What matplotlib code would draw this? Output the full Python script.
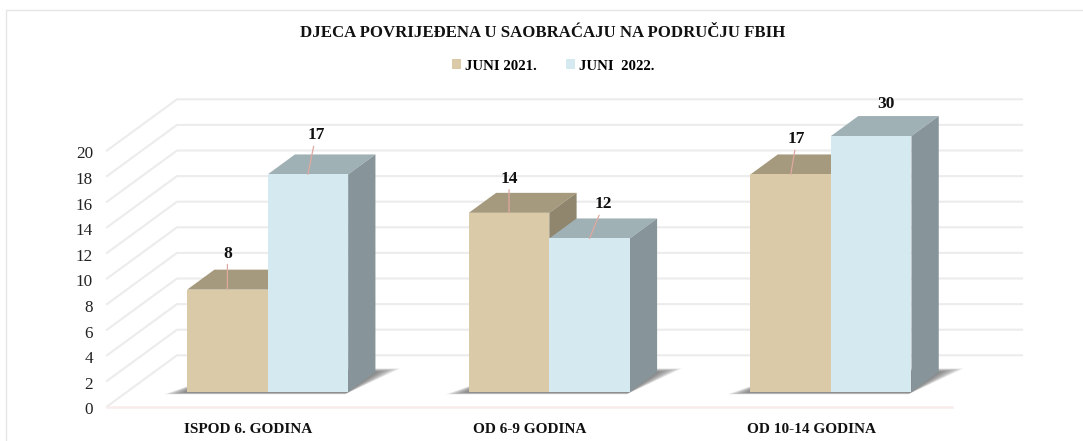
#!/usr/bin/env python3
import matplotlib
matplotlib.use("Agg")
import matplotlib.pyplot as plt
from matplotlib.patches import Polygon, Patch
from matplotlib.lines import Line2D
from matplotlib.transforms import ScaledTranslation

categories = ["ISPOD 6. GODINA", "OD 6-9 GODINA", "OD 10-14 GODINA"]
juni_2021 = [8, 14, 17]
juni_2022 = [17, 12, 30]
y_ticks = [0, 2, 4, 6, 8, 10, 12, 14, 16, 18, 20]
series_names = ["JUNI 2021.", "JUNI  2022."]

W, H = 1083, 441
FONT = "Liberation Serif"
YMAX = 20

# fake 3d: how far the back wall sits from the front plane, in data units
WALL_DX = 70 / 281.7
WALL_DY = 4.0
BAR_Z = 0.283    # front face of the bars (0 front, 1 wall)
BAR_DEPTH = 0.39
BAR_W = 80.5 / 281.7

TAN = ("#dacaa8", "#a59a7d", "#8f866d")
BLUE = ("#d5e9f0", "#a0b1b5", "#87959b")
GRID = "#ececec"


def project(x, y, z):
    return x + z * WALL_DX, y + z * WALL_DY


def poly(ax, pts, **kw):
    ax.add_patch(Polygon([project(*p) for p in pts], closed=True, clip_on=False, **kw))


def draw_bar(ax, left, val, cols, zo):
    top = min(val, YMAX)  # axis stops at 20, the 30 bar gets cut off
    right = left + BAR_W
    z0, z1 = BAR_Z, BAR_Z + BAR_DEPTH
    poly(ax, [(left, top, z0), (right, top, z0), (right, top, z1), (left, top, z1)],
         fc=cols[1], ec="none", zorder=zo)
    poly(ax, [(right, 0, z0), (right, top, z0), (right, top, z1), (right, 0, z1)],
         fc=cols[2], ec="none", zorder=zo)
    poly(ax, [(left, 0, z0), (right, 0, z0), (right, top, z0), (left, top, z0)],
         fc=cols[0], ec="none", zorder=zo + 0.1)


def draw_shadow(ax, left, right):
    # stacked see-through layers, the reference shadow is soft
    for k in range(8):
        grow = 0.07 - k * 0.009
        z0 = BAR_Z - 0.01 - grow * 0.5
        z1 = BAR_Z + BAR_DEPTH + grow
        poly(ax, [(left - grow, 0, z0), (right, 0, z0),
                  (right + grow, 0, z1), (left + grow, 0, z1)],
             fc="#555555", ec="none", alpha=0.13, zorder=2)


fig = plt.figure(figsize=(W / 100, H / 100), dpi=100)
ax = fig.add_axes([107 / W, 1 - 406.5 / H, 845 / W, 256 / H])
ax.set_xlim(-0.5, 2.5)
ax.set_ylim(0, YMAX)
for s in ax.spines.values():
    s.set_visible(False)
ax.patch.set_alpha(0)

# outer frame, only top and left show
fig.add_artist(Line2D([5.5 / W, 5.5 / W, 1], [0, 1 - 9.5 / H, 1 - 9.5 / H],
                      transform=fig.transFigure, color="#e6e6e6", lw=1))

# gridlines: slant on the left side wall, then along the back wall
for t in y_ticks:
    xs = [-0.5, project(-0.5, t, 1)[0], project(2.5, t, 1)[0]]
    ys = [t, t + WALL_DY, t + WALL_DY]
    ax.plot(xs, ys, color=GRID, lw=1.5, clip_on=False, zorder=1)
ax.plot([-0.5, 2.5], [0, 0], color="#f8ecec", lw=1.8, clip_on=False, zorder=1.5)

ax.set_yticks(y_ticks)
ax.set_yticklabels([str(t) for t in y_ticks])
ax.set_xticks(range(len(categories)))
ax.set_xticklabels(categories, fontweight="bold")
ax.tick_params(axis="y", length=0, pad=10, labelsize=12.3, labelcolor="#222222")
ax.tick_params(axis="x", length=0, pad=11.7, labelsize=11, labelcolor="#111111")
for lab in ax.get_xticklabels() + ax.get_yticklabels():
    lab.set_family(FONT)
nudge = ScaledTranslation(0, -2 / 100, fig.dpi_scale_trans)
for lab in ax.get_yticklabels():
    lab.set_transform(lab.get_transform() + nudge)

# (text offset in px from the top of the bar, leader yes/no)
labels_2021 = [(0, 36, True), (0, 34, True), (6, 35, True)]
labels_2022 = [(8, 39, True), (14, 34, True), (15, 32, False)]

for i in range(len(categories)):
    left = i - BAR_W
    draw_shadow(ax, left, i + BAR_W)
    draw_bar(ax, left, juni_2021[i], TAN, 3 + i)
    draw_bar(ax, i, juni_2022[i], BLUE, 3.5 + i)
    for x0, val, (ox, oy, leader) in [(left, juni_2021[i], labels_2021[i]),
                                      (i, juni_2022[i], labels_2022[i])]:
        xy = project(x0 + BAR_W / 2, min(val, YMAX), BAR_Z)
        props = dict(arrowstyle="-", color="#e0a8a0", lw=0.9, shrinkA=0, shrinkB=0) if leader else None
        ax.annotate(str(val), xy=xy, xytext=(ox, oy), textcoords="offset pixels",
                    ha="center", va="center", fontsize=12.5, fontweight="bold",
                    family=FONT, color="#111111", arrowprops=props,
                    annotation_clip=False, zorder=10)

fig.text(542.5 / W, 1 - 33 / H, "DJECA POVRIJEĐENA U SAOBRAĆAJU NA PODRUČJU FBIH",
         ha="center", va="center", fontsize=12.1, fontweight="bold", family=FONT, color="#111111")

handles = [Patch(fc=TAN[0], ec="none"), Patch(fc=BLUE[0], ec="none")]
fig.legend(handles, series_names, loc="center", bbox_to_anchor=(553 / W, 1 - 66 / H), ncol=2,
           frameon=False, handlelength=0.62, handleheight=0.62, handletextpad=0.25,
           columnspacing=2.0, prop=dict(family=FONT, weight="bold", size=10.7))

fig.savefig("out.png", dpi=100)
